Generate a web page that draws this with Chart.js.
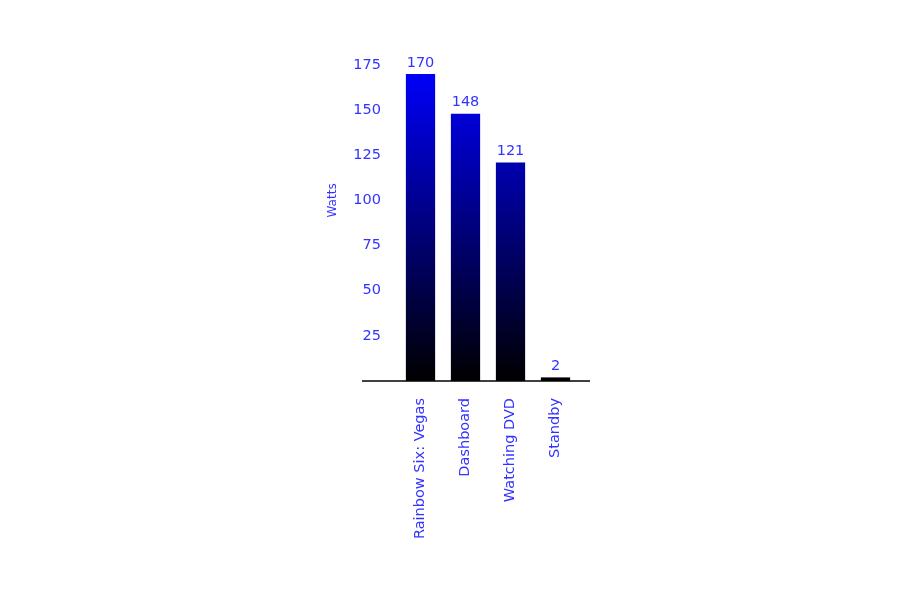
<!DOCTYPE html>
<html>
<head>
<meta charset="utf-8">
<script src="https://cdn.jsdelivr.net/npm/chart.js@4/dist/chart.umd.min.js"></script>
<style>
  html, body { margin: 0; padding: 0; background: #fff; }
</style>
</head>
<body>
<canvas id="chartbox" width="920" height="594"></canvas>
<script>
// data
const categories = ['Rainbow Six: Vegas', 'Dashboard', 'Watching DVD', 'Standby']
const watts = [170, 148, 121, 2]
const yTicks = [25, 50, 75, 100, 125, 150, 175]
const yTitle = 'Watts'

const textBlue = '#3333ff'
const font = { family: 'DejaVu Sans', size: 14.5 }

// blue at the top of the plot, black at the baseline
const barGradient = (ctx) => {
  const area = ctx.chart.chartArea
  if (!area) return '#0000ff'
  const g = ctx.chart.ctx.createLinearGradient(0, area.top, 0, area.bottom)
  g.addColorStop(0, '#0000ff')
  g.addColorStop(1, '#000000')
  return g
}

// value above each bar, the y title and the long baseline
const extras = {
  id: 'extras',
  afterDatasetsDraw(chart) {
    const { ctx, chartArea } = chart
    const y = chart.scales.y
    const y0 = y.getPixelForValue(0)
    ctx.save()
    ctx.strokeStyle = '#000'
    ctx.lineWidth = 1.5
    ctx.beginPath()
    ctx.moveTo(chartArea.left - 36, y0)
    ctx.lineTo(chartArea.right + 12, y0)
    ctx.stroke()

    ctx.fillStyle = textBlue
    ctx.font = `${font.size}px ${font.family}`
    ctx.textAlign = 'center'
    ctx.textBaseline = 'bottom'
    chart.getDatasetMeta(0).data.forEach((bar, i) => {
      ctx.fillText(String(watts[i]), bar.x, bar.y - 4)
    })

    // axis title sits level with the 100 tick
    ctx.translate(chartArea.left - 65, y.getPixelForValue(100))
    ctx.rotate(-Math.PI / 2)
    ctx.font = '12px DejaVu Sans'
    ctx.textBaseline = 'middle'
    ctx.fillText(yTitle, 0, 0)
    ctx.restore()
  }
}

new Chart(document.querySelector('#chartbox'), {
  type: 'bar',
  data: {
    labels: categories,
    datasets: [{
      label: yTitle,
      data: watts,
      backgroundColor: barGradient,
      borderWidth: 0,
      barPercentage: 0.65,
      categoryPercentage: 1
    }]
  },
  options: {
    responsive: false,
    animation: false,
    layout: { padding: { left: 320, right: 342, top: 65, bottom: 43 } },
    plugins: {
      legend: { display: false },
      tooltip: { enabled: false }
    },
    scales: {
      x: {
        offset: true,
        grid: { display: false, drawTicks: false },
        border: { display: false },
        afterFit: (s) => { s.height = 170 },
        ticks: {
          color: textBlue,
          font,
          minRotation: 90,
          maxRotation: 90,
          padding: 17,
          autoSkip: false
        }
      },
      y: {
        min: 0,
        max: 175,
        afterFit: (s) => { s.width = 78 },
        afterBuildTicks: (s) => { s.ticks = yTicks.map(v => ({ value: v })) },
        grid: { display: false, drawTicks: false },
        border: { display: false },
        ticks: { color: textBlue, font, padding: 17 }
      }
    }
  },
  plugins: [extras]
})
</script>
</body>
</html>
